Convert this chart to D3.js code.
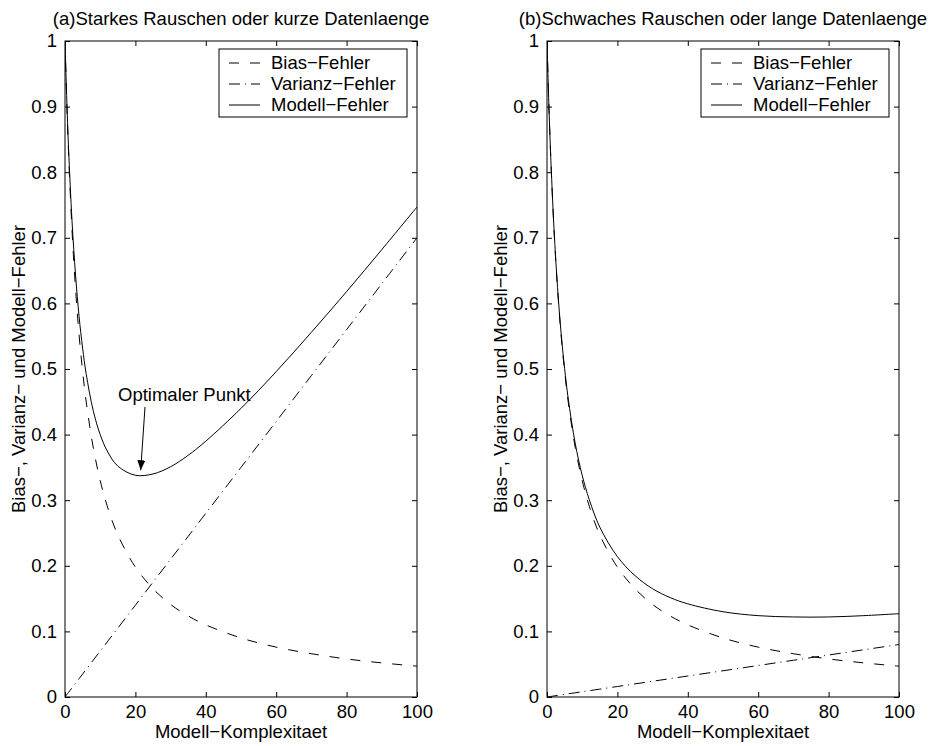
<!DOCTYPE html>
<html>
<head>
<meta charset="utf-8">
<script src="https://cdn.jsdelivr.net/npm/d3@7"></script>
<style>
  html, body { margin: 0; padding: 0; background: #fff; }
  svg text { font-family: "Liberation Sans", Arial, Helvetica, sans-serif; fill: #000; }
</style>
</head>
<body>
<svg id="chart" width="932" height="746"></svg>
<script>
// ---- data ----
const complexity = [0, 0.5, 1, 2, 3, 4, 5, 6, 8, 10, 12, 15, 20, 25, 30, 35, 40, 50, 60, 70, 80, 90, 100];

const biasError = [1.0, 0.908, 0.831, 0.711, 0.622, 0.552, 0.497, 0.451, 0.381, 0.330, 0.291, 0.247, 0.198, 0.165, 0.141, 0.1235, 0.110, 0.090, 0.076, 0.066, 0.058, 0.052, 0.047];

const varianceA = [0.0, 0.0035, 0.007, 0.014, 0.021, 0.028, 0.035, 0.042, 0.056, 0.070, 0.084, 0.105, 0.140, 0.175, 0.210, 0.245, 0.280, 0.350, 0.420, 0.490, 0.560, 0.630, 0.700];
const modelA = [1.0, 0.9115, 0.838, 0.725, 0.643, 0.580, 0.532, 0.493, 0.437, 0.400, 0.375, 0.352, 0.338, 0.340, 0.351, 0.3685, 0.390, 0.440, 0.496, 0.556, 0.618, 0.682, 0.747];

const varianceB = [0.0, 0.0004, 0.0008, 0.0016, 0.0024, 0.0032, 0.004, 0.0048, 0.0064, 0.008, 0.0096, 0.012, 0.016, 0.020, 0.024, 0.028, 0.032, 0.040, 0.048, 0.056, 0.064, 0.072, 0.080];
const modelB = [1.0, 0.9084, 0.832, 0.713, 0.624, 0.555, 0.501, 0.456, 0.387, 0.338, 0.301, 0.259, 0.214, 0.185, 0.165, 0.1515, 0.142, 0.130, 0.124, 0.122, 0.122, 0.124, 0.127];

const xTicks = [0, 20, 40, 60, 80, 100];
const yTicks = [0, 0.1, 0.2, 0.3, 0.4, 0.5, 0.6, 0.7, 0.8, 0.9, 1];

const titles = ["(a)Starkes Rauschen oder kurze Datenlaenge", "(b)Schwaches Rauschen oder lange Datenlaenge"];
const xLabel = "Modell\u2212Komplexitaet";
const yLabel = "Bias\u2212, Varianz\u2212 und Modell\u2212Fehler";
const legendLabels = ["Bias\u2212Fehler", "Varianz\u2212Fehler", "Modell\u2212Fehler"];
const annotationText = "Optimaler Punkt";
const optimum = { x: 21.5, y: 0.341 };

// ---- drawing ----
const svg = d3.select("#chart");
const FS = 18.5;
const dashStyles = ["10,11", "11,5,1,5", null];

const panels = [
  { x0: 65, x1: 417, title: titles[0], series: [biasError, varianceA, modelA], annotate: true },
  { x0: 547, x1: 899, title: titles[1], series: [biasError, varianceB, modelB], annotate: false }
];
const yTop = 41, yBot = 697;

svg.append("defs").append("marker")
  .attr("id", "arrow").attr("viewBox", "0 0 10 10")
  .attr("refX", 10).attr("refY", 5)
  .attr("markerWidth", 10).attr("markerHeight", 8)
  .attr("markerUnits", "userSpaceOnUse")
  .attr("orient", "auto")
  .attr("preserveAspectRatio", "none")
  .append("path").attr("d", "M0,0 L10,5 L0,10 Z").attr("fill", "#000");

panels.forEach((p, pi) => {
  const x = d3.scaleLinear().domain([0, 100]).range([p.x0, p.x1]);
  const y = d3.scaleLinear().domain([0, 1]).range([yBot, yTop]);
  const g = svg.append("g");

  const clipId = "clip" + pi;
  svg.select("defs").append("clipPath").attr("id", clipId)
    .append("rect").attr("x", p.x0).attr("y", yTop).attr("width", p.x1 - p.x0).attr("height", yBot - yTop);

  // axes with inward ticks on all sides
  const tl = 5;
  g.append("g").attr("transform", `translate(0,${yBot})`)
    .call(d3.axisBottom(x).tickValues(xTicks).tickSizeInner(-tl).tickSizeOuter(0).tickPadding(8).tickFormat(d3.format("d")))
    .call(a => { a.select(".domain").remove(); a.selectAll("text").attr("font-size", FS).attr("dy", "0.71em"); });
  g.append("g").attr("transform", `translate(0,${yTop})`)
    .call(d3.axisTop(x).tickValues(xTicks).tickSizeInner(-tl).tickSizeOuter(0).tickFormat(""))
    .call(a => a.select(".domain").remove());
  g.append("g").attr("transform", `translate(${p.x0},0)`)
    .call(d3.axisLeft(y).tickValues(yTicks).tickSizeInner(-tl).tickSizeOuter(0).tickPadding(8).tickFormat(d => d === 0 ? "0" : d === 1 ? "1" : d3.format(".1f")(d)))
    .call(a => { a.select(".domain").remove(); a.selectAll("text").attr("font-size", FS); });
  g.append("g").attr("transform", `translate(${p.x1},0)`)
    .call(d3.axisRight(y).tickValues(yTicks).tickSizeInner(-tl).tickSizeOuter(0).tickFormat(""))
    .call(a => a.select(".domain").remove());
  g.selectAll(".tick line").attr("stroke", "#000");
  g.selectAll(".tick text").attr("fill", "#000").attr("font-family", "Liberation Sans, Arial, sans-serif");

  // box
  g.append("rect").attr("x", p.x0).attr("y", yTop).attr("width", p.x1 - p.x0).attr("height", yBot - yTop)
    .attr("fill", "none").attr("stroke", "#000").attr("stroke-width", 1);

  // lines
  const line = d3.line().x((d, i) => x(complexity[i])).y(d => y(d)).curve(d3.curveCatmullRom.alpha(0.5));
  p.series.forEach((s, si) => {
    g.append("path").datum(s).attr("d", line).attr("clip-path", `url(#${clipId})`)
      .attr("fill", "none").attr("stroke", "#000").attr("stroke-width", 1)
      .attr("stroke-dasharray", dashStyles[si]);
  });

  // title
  g.append("text").attr("x", (p.x0 + p.x1) / 2).attr("y", 25).attr("text-anchor", "middle")
    .attr("font-size", FS).text(p.title);
  // x label
  g.append("text").attr("x", (p.x0 + p.x1) / 2).attr("y", 738).attr("text-anchor", "middle")
    .attr("font-size", FS).text(xLabel);
  // y label
  g.append("text").attr("transform", `translate(${p.x0 - 40},${(yTop + yBot) / 2}) rotate(-90)`)
    .attr("text-anchor", "middle").attr("font-size", FS).text(yLabel);

  // legend
  const lx = p.x1 - 198, ly = 49, lw = 188, lh = 68;
  const lg = g.append("g");
  lg.append("rect").attr("x", lx).attr("y", ly).attr("width", lw).attr("height", lh)
    .attr("fill", "#fff").attr("stroke", "#000").attr("stroke-width", 1);
  legendLabels.forEach((lab, i) => {
    const cy = ly + 14 + i * 21;
    lg.append("line").attr("x1", lx + 10).attr("x2", lx + 41).attr("y1", cy).attr("y2", cy)
      .attr("stroke", "#000").attr("stroke-width", 1).attr("stroke-dasharray", dashStyles[i]);
    lg.append("text").attr("x", lx + 52).attr("y", cy).attr("dy", "0.35em")
      .attr("font-size", FS).text(lab);
  });

  // annotation
  if (p.annotate) {
    g.append("text").attr("x", 118).attr("y", 401).attr("font-size", FS).text(annotationText);
    g.append("line").attr("x1", 145).attr("y1", 407)
      .attr("x2", x(optimum.x)).attr("y2", y(optimum.y) - 3)
      .attr("stroke", "#000").attr("stroke-width", 1).attr("marker-end", "url(#arrow)");
  }
});
</script>
</body>
</html>
